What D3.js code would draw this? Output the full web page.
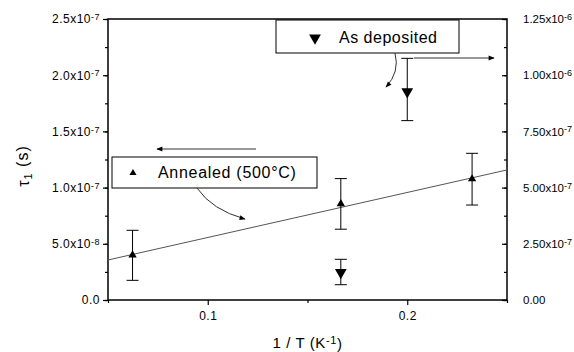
<!DOCTYPE html>
<html>
<head>
<meta charset="utf-8">
<script src="https://cdn.jsdelivr.net/npm/d3@7"></script>
<style>
  body { margin: 0; background: #fff; }
  svg { font-family: "Liberation Sans", Arial, sans-serif; }
</style>
</head>
<body>
<script>
"use strict";
// ----------------------------------------
//  Data
// ----------------------------------------
const annealedX    = [0.0623, 0.1667, 0.2325];
const annealedY    = [4.0e-8, 8.55e-8, 1.077e-7];
const annealedLo   = [1.75e-8, 6.3e-8, 8.45e-8];
const annealedHi   = [6.2e-8, 1.08e-7, 1.305e-7];

const depositedX   = [0.1667, 0.2];
const depositedY   = [1.23e-7, 9.27e-7];
const depositedLo  = [6.8e-8, 7.98e-7];
const depositedHi  = [1.81e-7, 1.075e-6];

const fitX = [0.05, 0.25];
const fitY = [3.56e-8, 1.157e-7];

const xTicks      = [0.1, 0.2];
const leftTicks   = [0, 5e-8, 1e-7, 1.5e-7, 2e-7, 2.5e-7];
const rightTicks  = [0, 2.5e-7, 5e-7, 7.5e-7, 1e-6, 1.25e-6];

// ----------------------------------------
//  Layout
// ----------------------------------------
const W = 574, H = 352;
const margin = {top: 19, right: 67, bottom: 52, left: 108};
const width = W - margin.left - margin.right;
const height = H - margin.top - margin.bottom;

const x = d3.scaleLinear().domain([0.05, 0.25]).range([0, width]);
const yL = d3.scaleLinear().domain([0, 2.5e-7]).range([height, 0]);
const yR = d3.scaleLinear().domain([0, 1.25e-6]).range([height, 0]);

const svg = d3.select("body").append("svg")
    .attr("width", W).attr("height", H);
const g = svg.append("g")
    .attr("transform", "translate(" + margin.left + "," + margin.top + ")");

// formatter -> [mantissa, exponent] (exponent null for zero)
function sci(v, digits) {
    if (v === 0) return [(0).toFixed(digits), null];
    let e = Math.floor(Math.log10(v) + 1e-9);
    let m = v / Math.pow(10, e);
    return [m.toFixed(digits) + "x10", String(e)];
}
function labelTicks(sel, digits) {
    sel.selectAll(".tick text").each(function(d) {
        let t = d3.select(this).text("");
        let p = sci(d, digits);
        t.append("tspan").text(p[0]);
        if (p[1] !== null) {
            t.append("tspan").attr("dy", "-0.35em").attr("font-size", "9px").text(p[1]);
        }
    });
}
function styleTicks(sel, size, spacing) {
    sel.selectAll(".tick text").attr("font-size", size + "px")
        .attr("letter-spacing", spacing + "px").attr("fill", "#000");
}

// ----------------------------------------
//  Axes
// ----------------------------------------
// minor ticks
const gMinL = g.append("g").call(d3.axisLeft(yL).tickValues(d3.range(0, 2.51e-7, 2.5e-8)).tickSize(3).tickFormat(""));
const gMinR = g.append("g").attr("transform", "translate(" + width + ",0)")
    .call(d3.axisLeft(yR).tickValues(d3.range(0, 1.26e-6, 1.25e-7)).tickSize(3).tickFormat(""));
const gMinB = g.append("g").attr("transform", "translate(0," + height + ")")
    .call(d3.axisBottom(x).tickValues([0.05, 0.15, 0.25]).tickSize(3).tickFormat(""));
[gMinL, gMinR, gMinB].forEach(s => s.select(".domain").remove());

const gL = g.append("g").call(d3.axisLeft(yL).tickValues(leftTicks).tickSize(5).tickPadding(3));
styleTicks(gL, 12, 0.5);
labelTicks(gL, 1);

const gR = g.append("g").attr("transform", "translate(" + width + ",0)")
    .call(d3.axisRight(yR).tickValues(rightTicks).tickSize(0).tickPadding(16));
gR.selectAll(".tick").append("line").attr("x1", 0).attr("x2", -5).attr("stroke", "#000");
styleTicks(gR, 11.5, 0);
labelTicks(gR, 2);

const gB = g.append("g").attr("transform", "translate(0," + height + ")")
    .call(d3.axisBottom(x).tickValues(xTicks).tickSize(5).tickPadding(6).tickFormat(d3.format(".1f")));
styleTicks(gB, 12, 0.5);

[gL, gR, gB, gMinL, gMinR, gMinB].forEach(s => s.selectAll("line").attr("stroke-width", 1.2));
g.selectAll(".domain").remove();

// frame
g.append("rect").attr("width", width).attr("height", height)
    .attr("fill", "none").attr("stroke", "#000").attr("stroke-width", 1.5);

// axis titles
const yt = svg.append("text")
    .attr("transform", "translate(29,166) rotate(-90)")
    .attr("text-anchor", "middle").attr("font-size", "16px").attr("letter-spacing", "1px");
yt.append("tspan").text("τ");
yt.append("tspan").attr("dy", "0.3em").attr("font-size", "11px").text("1");
yt.append("tspan").attr("dy", "-0.3em").text(" (s)");

const xt = svg.append("text")
    .attr("x", margin.left + width / 2).attr("y", 348)
    .attr("text-anchor", "middle").attr("font-size", "15px").attr("letter-spacing", "0.6px");
xt.append("tspan").text("1 / T (K");
xt.append("tspan").attr("dy", "-0.35em").attr("font-size", "11px").text("-1");
xt.append("tspan").attr("dy", "0.35em").text(")");

// ----------------------------------------
//  Fit line & data
// ----------------------------------------
g.append("path")
    .datum(fitX.map((d, i) => [d, fitY[i]]))
    .attr("d", d3.line().x(d => x(d[0])).y(d => yL(d[1])))
    .attr("fill", "none").attr("stroke", "#555").attr("stroke-width", 1);

function errBars(xs, lo, hi, ys) {
    xs.forEach((xv, i) => {
        let cx = x(xv);
        g.append("line").attr("x1", cx).attr("x2", cx)
            .attr("y1", ys(lo[i])).attr("y2", ys(hi[i])).attr("stroke", "#000");
        [lo[i], hi[i]].forEach(v => {
            g.append("line").attr("x1", cx - 6).attr("x2", cx + 6)
                .attr("y1", ys(v)).attr("y2", ys(v)).attr("stroke", "#000");
        });
    });
}
errBars(annealedX, annealedLo, annealedHi, yL);
errBars(depositedX, depositedLo, depositedHi, yR);

const triUp = d3.symbol().type(d3.symbolTriangle).size(30);
const triDown = d3.symbol().type(d3.symbolTriangle).size(60);

g.selectAll(".ann").data(annealedX).enter().append("path")
    .attr("class", "ann")
    .attr("d", triUp)
    .attr("transform", (d, i) => "translate(" + x(d) + "," + yL(annealedY[i]) + ")");

g.selectAll(".dep").data(depositedX).enter().append("path")
    .attr("class", "dep")
    .attr("d", triDown)
    .attr("transform", (d, i) => "translate(" + x(d) + "," + yR(depositedY[i]) + ") rotate(180)");

// ----------------------------------------
//  Annotations (legend boxes and arrows)
// ----------------------------------------
const defs = svg.append("defs");
defs.append("marker").attr("id", "ah").attr("viewBox", "0 0 10 10")
    .attr("refX", 9).attr("refY", 5).attr("markerWidth", 8).attr("markerHeight", 6)
    .attr("markerUnits", "userSpaceOnUse").attr("orient", "auto")
    .append("path").attr("d", "M0,1 L10,5 L0,9 Z").attr("fill", "#000");

// As deposited box
const bx1 = svg.append("g");
bx1.append("rect").attr("x", 276).attr("y", 20).attr("width", 183).attr("height", 33)
    .attr("fill", "#fff").attr("stroke", "#000").attr("stroke-width", 1);
bx1.append("path").attr("d", triDown).attr("transform", "translate(315,38) rotate(180)");
bx1.append("text").attr("x", 339).attr("y", 43).attr("font-size", "16px")
    .attr("letter-spacing", "0.5px").text("As deposited");

// Annealed box
const bx2 = svg.append("g");
bx2.append("rect").attr("x", 112).attr("y", 157).attr("width", 205).attr("height", 31)
    .attr("fill", "#fff").attr("stroke", "#000").attr("stroke-width", 1);
bx2.append("path").attr("d", d3.symbol().type(d3.symbolTriangle).size(22)).attr("transform", "translate(133,173)");
bx2.append("text").attr("x", 158).attr("y", 178).attr("font-size", "16px")
    .attr("letter-spacing", "0.7px").text("Annealed (500°C)");

// arrows
svg.append("line").attr("x1", 256).attr("y1", 149).attr("x2", 157).attr("y2", 149)
    .attr("stroke", "#333").attr("stroke-width", 1).attr("marker-end", "url(#ah)");
svg.append("line").attr("x1", 414).attr("y1", 58).attr("x2", 494).attr("y2", 58)
    .attr("stroke", "#333").attr("stroke-width", 1).attr("marker-end", "url(#ah)");
svg.append("path").attr("d", "M395,53 Q400,72 386,87")
    .attr("fill", "none").attr("stroke", "#333").attr("stroke-width", 1).attr("marker-end", "url(#ah)");
svg.append("path").attr("d", "M197,188 Q212,210 245,219")
    .attr("fill", "none").attr("stroke", "#333").attr("stroke-width", 1).attr("marker-end", "url(#ah)");
</script>
</body>
</html>
